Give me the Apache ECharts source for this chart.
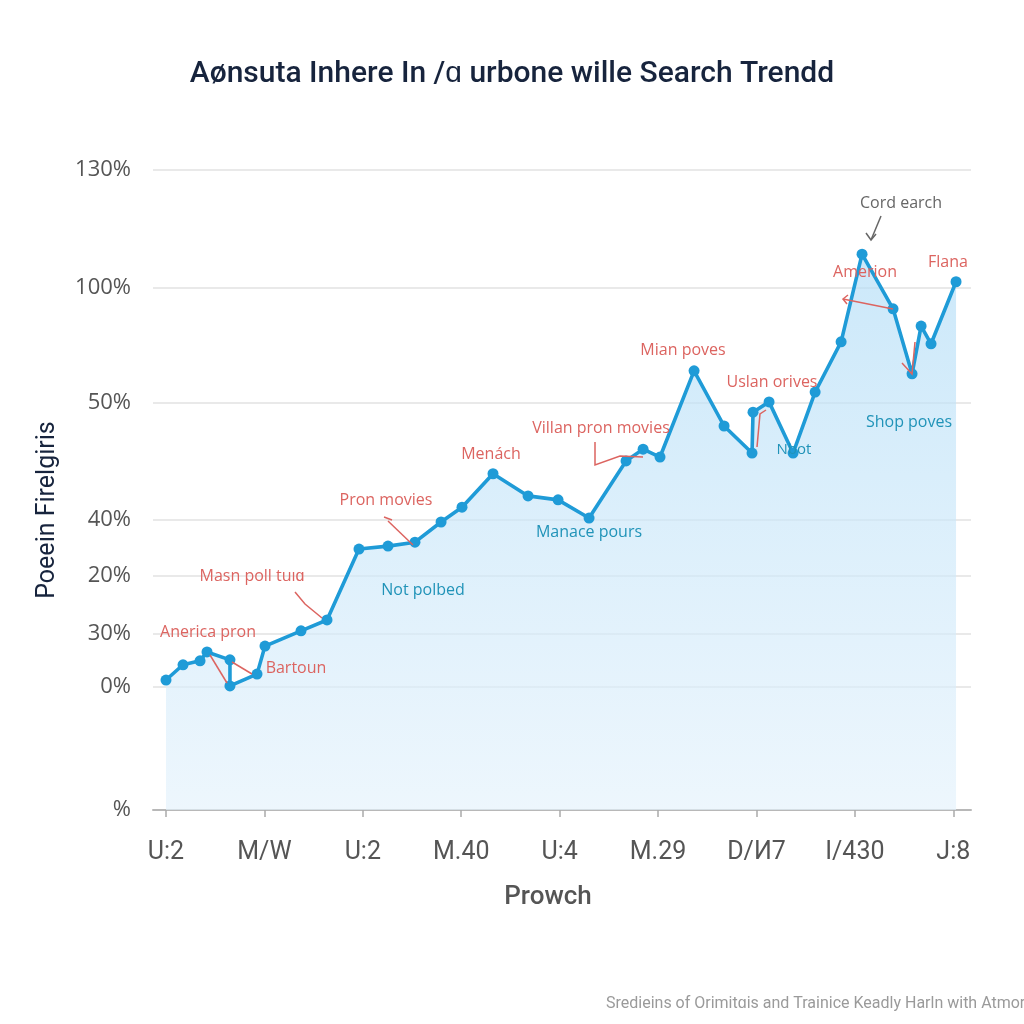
<!DOCTYPE html>
<html>
<head>
<meta charset="utf-8">
<style>html,body{margin:0;padding:0;background:#fff;}#c{width:1024px;height:1024px;}</style>
<script src="https://cdn.jsdelivr.net/npm/echarts@6/dist/echarts.min.js"></script>
</head>
<body>
<div id="c"></div>
<script>
// ---- data ----
const xTickValues = [0, 1, 2, 3, 4, 5, 6, 7, 8];
const xTickLabels = ['U:2', 'M/W', 'U:2', 'M.40', 'U:4', 'M.29', 'D/\u0418\u200B7', 'I/430', 'J:8'];
const yTickValues = [0, 25, 35.75, 47.5, 58.9, 82.7, 106, 130];
const yTickLabels = ['%', '0%', '30%', '20%', '40%', '50%', '100%', '130%'];
const seriesX = [0.000, 0.173, 0.346, 0.417, 0.650, 0.650, 0.925, 1.006, 1.372, 1.636, 1.961, 2.256, 2.530, 2.795, 3.008, 3.323, 3.679, 3.984, 4.299, 4.675, 4.848, 5.020, 5.366, 5.671, 5.955, 5.965, 6.128, 6.372, 6.596, 6.860, 7.073, 7.388, 7.581, 7.673, 7.774, 8.028];
const seriesY = [26.4, 29.5, 30.3, 32.1, 30.5, 25.2, 27.6, 33.3, 36.4, 38.6, 53.0, 53.6, 54.4, 58.5, 61.5, 68.3, 63.8, 63.0, 59.3, 70.9, 73.3, 71.7, 89.2, 78.0, 72.5, 80.8, 82.9, 72.5, 84.9, 95.1, 112.9, 101.8, 88.6, 98.3, 94.7, 107.3];
const redNotes = ['Cord earch', 'Amerion', 'Flana', 'Mian poves', 'Uslan orives', 'Villan pron movies', 'Men\u00e1ch', 'Pron movies', 'Masn poll tu\u0131\u0251', 'Anerica pron', 'Bartoun'];
const tealNotes = ['Not polbed', 'Manace pours', 'Shop poves', 'Nbot'];

const titleText = 'A\u00f8nsuta Inhere In /\u0251 urbone wille Search Trendd';
const yName = 'Poeein Firelgiris';
const xName = 'Prowch';
const footer = 'Sredieins of Orimit\u0251is and Trainice Keadly Harln with Atmoria';

const RED = '#dc6460', TEAL = '#2093b8', LINE = '#1f9bd7';
const chart = echarts.init(document.getElementById('c'));

function txt(t, x, y, color, size) {
  return { type: 'text', x: x, y: y, style: { text: t, fill: color, font: (size || 16) + 'px "Open Sans", Roboto, sans-serif', align: 'center', verticalAlign: 'middle' }, z: 20 };
}
function pl(points, color) {
  return { type: 'polyline', shape: { points: points }, style: { stroke: color, lineWidth: 1.5, fill: null }, z: 19 };
}

const graphics = [
  { type: 'text', x: 48, y: 510, rotation: Math.PI / 2, style: { text: yName, fill: '#17243d', font: '25px Roboto, sans-serif', align: 'center', verticalAlign: 'middle' } },
  { type: 'text', x: 548, y: 897, style: { text: xName, fill: '#555', font: '500 26px Roboto, sans-serif', align: 'center', verticalAlign: 'middle' } },
  { type: 'text', x: 606, y: 1004, style: { text: footer, fill: '#9a9a9a', font: '16px Roboto, sans-serif', align: 'left', verticalAlign: 'middle' } },
  txt(redNotes[0], 901, 203, '#666'),
  txt(redNotes[1], 865, 272, RED),
  txt(redNotes[2], 948, 262, RED),
  txt(redNotes[3], 683, 350, RED),
  txt(redNotes[4], 772, 382, RED),
  txt(redNotes[5], 601, 428, RED),
  txt(redNotes[6], 491, 454, RED),
  txt(redNotes[7], 386, 500, RED),
  txt(redNotes[8], 252, 576, RED),
  txt(redNotes[9], 208, 632, RED),
  txt(redNotes[10], 296, 668, RED),
  txt(tealNotes[0], 423, 590, TEAL),
  txt(tealNotes[1], 589, 532, TEAL),
  txt(tealNotes[2], 909, 422, TEAL),
  txt(tealNotes[3], 794, 450, TEAL, 15),
  pl([[881, 216], [871, 240]], '#666'),
  pl([[866, 233], [871, 240], [876, 234]], '#666'),
  pl([[843, 299], [893, 309]], RED),
  pl([[848, 295], [843, 299], [847, 304]], RED),
  pl([[384, 517], [392, 520]], RED),
  pl([[388, 521], [413, 545]], RED),
  pl([[295, 592], [305, 604], [322, 618]], RED),
  pl([[210, 655], [227, 683]], RED),
  pl([[232, 662], [252, 674]], RED),
  pl([[595, 442], [595, 465], [620, 456], [643, 457]], RED),
  pl([[757, 447], [760, 414], [766, 410]], RED),
  pl([[902, 363], [912, 374], [915, 342]], RED)
];

chart.setOption({
  animation: false,
  backgroundColor: '#ffffff',
  title: { text: titleText, left: 'center', top: 54, textStyle: { color: '#17243d', fontSize: 30, fontWeight: 500, fontFamily: 'Roboto, sans-serif' } },
  grid: { left: 153, right: 53, top: 170, bottom: 214 },
  xAxis: {
    type: 'value', min: -0.132, max: 8.18,
    axisLine: { show: true, lineStyle: { color: '#b8b8b8', width: 2 } },
    axisTick: { show: true, customValues: xTickValues, length: 7, lineStyle: { color: '#aaa', width: 1.5 } },
    axisLabel: { customValues: xTickValues, margin: 30, color: '#555', fontSize: 25, fontFamily: 'Roboto, sans-serif', formatter: function (v) { return xTickLabels[xTickValues.indexOf(Math.round(v))] || ''; } },
    splitLine: { show: false }
  },
  yAxis: {
    type: 'value', min: 0, max: 130,
    axisLine: { show: false },
    axisTick: { show: false, customValues: yTickValues },
    axisLabel: { customValues: yTickValues, margin: 22, color: '#555', fontSize: 22, fontFamily: '"Open Sans", sans-serif', formatter: function (v) { const i = yTickValues.findIndex(function (t) { return Math.abs(t - v) < 0.01; }); return i >= 0 ? yTickLabels[i] : ''; } },
    splitLine: { show: true, lineStyle: { color: '#e2e2e2', width: 1.5 } }
  },
  series: [{
    type: 'line',
    data: seriesX.map(function (x, i) { return [x, seriesY[i]]; }),
    symbol: 'circle', symbolSize: 11, showSymbol: true,
    lineStyle: { color: LINE, width: 3.6 },
    itemStyle: { color: LINE },
    areaStyle: { color: new echarts.graphic.LinearGradient(0, 0, 0, 1, [{ offset: 0, color: 'rgba(178,221,247,0.95)' }, { offset: 1, color: 'rgba(228,242,252,0.95)' }]) },
    z: 5
  }],
  graphic: graphics
});
</script>
</body>
</html>
